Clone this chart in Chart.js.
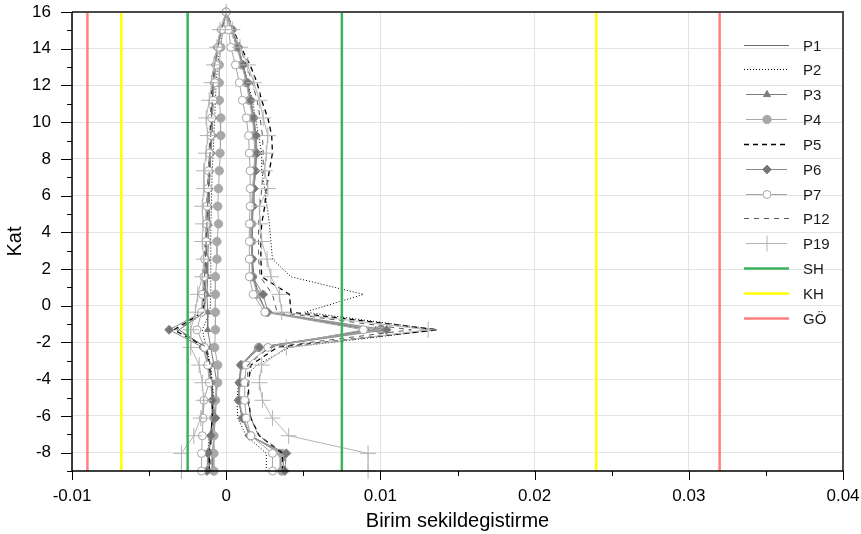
<!DOCTYPE html>
<html><head><meta charset="utf-8">
<script src="https://cdn.jsdelivr.net/npm/chart.js@4.4.1/dist/chart.umd.min.js"></script>
<style>html,body{margin:0;padding:0;background:#fff}canvas{display:block}</style>
</head><body>
<canvas id="c" width="861" height="534" style="width:861px;height:534px"></canvas>
<script>
// ---------- DATA ----------
const levels = [-9,-8.04,-7.08,-6.12,-5.15,-4.19,-3.23,-2.27,-1.31,-0.35,0.62,1.58,2.54,3.5,4.46,5.42,6.38,7.35,8.31,9.27,10.23,11.19,12.15,13.12,14.08,15.04,16];

const P1_max = [0.0035,0.0035,0.0016,0.00105,0.0008,0.00085,0.001,0.0022,0.0093,0.0026,0.0021,0.0018,0.0017,0.0017,0.0017,0.00175,0.0018,0.0019,0.00195,0.0019,0.0018,0.0016,0.0014,0.0011,0.00075,0.00035,0];
const P1_min = [-0.0011,-0.0011,-0.001,-0.0009,-0.0009,-0.00095,-0.0011,-0.00135,-0.00305,-0.0014,-0.00135,-0.0013,-0.0013,-0.00125,-0.0012,-0.00115,-0.0011,-0.00105,-0.001,-0.00095,-0.0009,-0.00085,-0.0008,-0.0007,-0.00055,-0.0003,0];

const P2_max = [0.0026,0.0026,0.0013,0.00075,0.0007,0.0008,0.002,0.0041,0.0137,0.0051,0.0089,0.0042,0.003,0.0029,0.0028,0.00265,0.0025,0.0023,0.0023,0.0021,0.0019,0.0017,0.0014,0.0011,0.0007,0.0003,0];
const P2_min = [-0.0012,-0.0012,-0.0011,-0.00085,-0.0008,-0.0009,-0.001,-0.0013,-0.00155,-0.00105,-0.001,-0.001,-0.001,-0.001,-0.001,-0.00095,-0.00095,-0.0009,-0.00085,-0.0008,-0.00075,-0.0007,-0.00065,-0.00055,-0.0004,-0.0002,0];

const P3_max = [0.0037,0.0037,0.00155,0.00105,0.0008,0.00085,0.00095,0.002,0.0097,0.0026,0.00205,0.00175,0.00165,0.00165,0.00165,0.0017,0.00175,0.00185,0.0019,0.00185,0.00175,0.00155,0.00135,0.00105,0.0007,0.00035,0];
const P3_min = [-0.0009,-0.0009,-0.0008,-0.0007,-0.00065,-0.0006,-0.0008,-0.001,-0.0012,-0.0012,-0.00125,-0.0012,-0.0012,-0.00115,-0.0011,-0.0011,-0.0011,-0.00105,-0.001,-0.00095,-0.0009,-0.00085,-0.0008,-0.0007,-0.00055,-0.0003,0];

const P4_max = [0.0036,0.0036,0.0016,0.0011,0.00085,0.0009,0.001,0.0021,0.01,0.0026,0.002,0.0017,0.00165,0.00165,0.00165,0.00165,0.0017,0.0018,0.00185,0.0018,0.0017,0.0015,0.0013,0.001,0.0007,0.00035,0];
const P4_min = [-0.0008,-0.0008,-0.0008,-0.0008,-0.0007,-0.00055,-0.00055,-0.00075,-0.0007,-0.0007,-0.0007,-0.0007,-0.0006,-0.0006,-0.0005,-0.00055,-0.0005,-0.00045,-0.0004,-0.00035,-0.00035,-0.00045,-0.00045,-0.00045,-0.00035,-0.0002,0];

const P5_max = [0.00365,0.00365,0.00215,0.0016,0.00145,0.00145,0.0016,0.0033,0.0137,0.0042,0.0041,0.0023,0.00225,0.00225,0.0023,0.0025,0.0026,0.0028,0.003,0.00295,0.0027,0.0023,0.002,0.00155,0.00095,0.00045,0];
const P5_min = [-0.0011,-0.0011,-0.001,-0.0009,-0.0009,-0.00095,-0.0011,-0.0013,-0.0034,-0.0015,-0.00145,-0.00145,-0.0014,-0.00135,-0.0013,-0.00125,-0.0012,-0.00115,-0.0011,-0.00105,-0.001,-0.00095,-0.0009,-0.0008,-0.0006,-0.00035,0];

const P6_max = [0.0038,0.0039,0.0015,0.00105,0.0008,0.00085,0.00095,0.00215,0.0104,0.0027,0.0024,0.0017,0.0017,0.0016,0.0016,0.00175,0.0018,0.0019,0.002,0.00195,0.0018,0.0016,0.0014,0.0011,0.0008,0.0004,0];
const P6_min = [-0.00125,-0.0012,-0.001,-0.0007,-0.0009,-0.001,-0.0012,-0.0015,-0.0037,-0.00155,-0.0015,-0.0014,-0.00135,-0.0013,-0.00125,-0.0012,-0.00115,-0.0011,-0.001,-0.0009,-0.0009,-0.00085,-0.0008,-0.0007,-0.0006,-0.00035,0];

const P7_max = [0.003,0.003,0.0016,0.0013,0.0012,0.0012,0.0013,0.0027,0.0089,0.0025,0.00175,0.0015,0.0015,0.0015,0.0015,0.00155,0.00155,0.00155,0.0015,0.00145,0.0013,0.00105,0.00085,0.0006,0.0003,0.00015,0];
const P7_min = [-0.0016,-0.0016,-0.00155,-0.0015,-0.00145,-0.0011,-0.0012,-0.0014,-0.0019,-0.0016,-0.00155,-0.00145,-0.0014,-0.0013,-0.0013,-0.00125,-0.0012,-0.00115,-0.0011,-0.001,-0.00095,-0.00085,-0.00075,-0.00065,-0.0005,-0.0003,0];

const P12_max = [0.0038,0.0038,0.0021,0.0016,0.0014,0.0014,0.0014,0.0028,0.012,0.0033,0.003,0.0022,0.0021,0.0021,0.0021,0.0022,0.0023,0.0024,0.0024,0.00235,0.0022,0.002,0.0017,0.0013,0.0009,0.0004,0];
const P12_min = [-0.001,-0.001,-0.00095,-0.00085,-0.00085,-0.0009,-0.00105,-0.00125,-0.0032,-0.00145,-0.0014,-0.0014,-0.00135,-0.0013,-0.00125,-0.0012,-0.00115,-0.0011,-0.00105,-0.001,-0.00095,-0.0009,-0.00085,-0.00075,-0.00055,-0.0003,0];

const P19_max = [0.0092,0.0092,0.00405,0.003,0.00235,0.00215,0.0023,0.0039,0.0131,0.0036,0.00345,0.0029,0.00265,0.0023,0.0022,0.00215,0.0027,0.0025,0.0026,0.0027,0.0024,0.00215,0.0018,0.0014,0.0009,0.0004,0];
const P19_min = [-0.0029,-0.0029,-0.0021,-0.00165,-0.00145,-0.00155,-0.00175,-0.0023,-0.0023,-0.002,-0.00185,-0.00155,-0.00145,-0.00155,-0.0015,-0.00155,-0.00145,-0.00145,-0.0013,-0.0012,-0.0013,-0.0011,-0.00095,-0.0008,-0.0006,-0.0004,0];

// limit lines (strain values)
const SH_limits = [-0.0025, 0.0075];
const KH_limits = [-0.0068, 0.024];
const GO_limits = [-0.009, 0.032];

const xTickValues = [-0.01, 0, 0.01, 0.02, 0.03, 0.04];
const yTickValues = [-8, -6, -4, -2, 0, 2, 4, 6, 8, 10, 12, 14, 16];

// ---------- STYLES ----------
const FONT = "'Liberation Sans', Arial, sans-serif";
const seriesDefs = [
  {label:'P1',  max:P1_max,  min:P1_min,  color:'#6e6e6e', dash:[],    width:1,   point:false},
  {label:'P2',  max:P2_max,  min:P2_min,  color:'#000000', dash:[1,2], width:1,   point:false},
  {label:'P3',  max:P3_max,  min:P3_min,  color:'#7c7c7c', dash:[],    width:1,   point:'triangle', r:3.5, fill:'#7c7c7c'},
  {label:'P4',  max:P4_max,  min:P4_min,  color:'#a8a8a8', dash:[],    width:1,   point:'circle',   r:4.2, fill:'#a8a8a8'},
  {label:'P5',  max:P5_max,  min:P5_min,  color:'#000000', dash:[5,4], width:1.3, point:false},
  {label:'P6',  max:P6_max,  min:P6_min,  color:'#8a8a8a', dash:[],    width:1,   point:'rectRot',  r:4.5, fill:'#767676'},
  {label:'P7',  max:P7_max,  min:P7_min,  color:'#a6a6a6', dash:[],    width:1,   point:'circle',   r:4,   fill:'#ffffff'},
  {label:'P12', max:P12_max, min:P12_min, color:'#585858', dash:[5,5], width:1,   point:false},
  {label:'P19', max:P19_max, min:P19_min, color:'#b4b4b4', dash:[],    width:1,   point:'cross',    r:8}
];
const limitDefs = [
  {label:'SH', values:SH_limits, color:'#3cb35a'},
  {label:'KH', values:KH_limits, color:'#ffff00'},
  {label:'GÖ', values:GO_limits, color:'#ff8080'}
];

function profile(maxArr, minArr) {
  const pts = [];
  for (let i = 0; i < levels.length; i++) pts.push({x: maxArr[i], y: levels[i]});
  for (let i = levels.length - 2; i >= 0; i--) pts.push({x: minArr[i], y: levels[i]});
  return pts;
}
function limitLine(vals) {
  const pts = [];
  vals.forEach((v, k) => {
    if (k > 0) pts.push({x: v, y: null});
    pts.push({x: v, y: levels[0]});
    pts.push({x: v, y: levels[levels.length - 1]});
  });
  return pts;
}

const datasets = [];
seriesDefs.forEach((s, idx) => {
  datasets.push({
    label: s.label,
    data: profile(s.max, s.min),
    showLine: true,
    borderColor: s.color,
    borderWidth: s.width,
    borderDash: s.dash,
    pointStyle: s.point || 'circle',
    pointRadius: s.point ? s.r : 0,
    pointBackgroundColor: s.fill || s.color,
    pointBorderColor: s.color,
    pointBorderWidth: 1,
    pointHoverRadius: 0,
    tension: 0,
    clip: false,
    order: 20 - idx
  });
});
limitDefs.forEach(l => {
  datasets.push({
    label: l.label,
    data: limitLine(l.values),
    showLine: true,
    spanGaps: false,
    borderColor: l.color,
    borderWidth: 2.5,
    pointRadius: 0,
    order: -1
  });
});

function drawMarker(ctx, style, x, y, r, fill, stroke) {
  ctx.save();
  ctx.setLineDash([]);
  ctx.fillStyle = fill; ctx.strokeStyle = stroke; ctx.lineWidth = 1;
  ctx.beginPath();
  if (style === 'circle') {
    ctx.arc(x, y, r, 0, Math.PI * 2); ctx.fill(); ctx.stroke();
  } else if (style === 'triangle') {
    ctx.moveTo(x, y - r * 1.15); ctx.lineTo(x + r, y + r * 0.6); ctx.lineTo(x - r, y + r * 0.6); ctx.closePath(); ctx.fill(); ctx.stroke();
  } else if (style === 'rectRot') {
    ctx.moveTo(x, y - r); ctx.lineTo(x + r, y); ctx.lineTo(x, y + r); ctx.lineTo(x - r, y); ctx.closePath(); ctx.fill(); ctx.stroke();
  } else if (style === 'cross') {
    ctx.moveTo(x - r, y); ctx.lineTo(x + r, y); ctx.moveTo(x, y - r); ctx.lineTo(x, y + r); ctx.stroke();
  }
  ctx.restore();
}

const decorPlugin = {
  id: 'decor',
  afterDraw(chart) {
    const {ctx, chartArea: a, scales: {x, y}} = chart;
    ctx.save();
    // frame top / right
    ctx.strokeStyle = '#4a4a4a'; ctx.lineWidth = 2;
    ctx.beginPath(); ctx.moveTo(a.left, a.top); ctx.lineTo(a.right, a.top); ctx.lineTo(a.right, a.bottom); ctx.stroke();
    // left & bottom axis lines
    ctx.strokeStyle = '#000'; ctx.lineWidth = 1.5;
    ctx.beginPath(); ctx.moveTo(a.left, a.top); ctx.lineTo(a.left, a.bottom); ctx.lineTo(a.right, a.bottom); ctx.stroke();
    // ticks
    ctx.lineWidth = 1;
    ctx.beginPath();
    for (let v = -9; v <= 16; v++) {
      const p = Math.round(y.getPixelForValue(v)) + 0.5;
      const len = (v % 2 === 0) ? 11 : 5;
      ctx.moveTo(a.left - len, p); ctx.lineTo(a.left, p);
    }
    for (let k = 0; k <= 10; k++) {
      const v = -0.01 + k * 0.005;
      const p = Math.round(x.getPixelForValue(v)) + 0.5;
      const len = (k % 2 === 0) ? 9 : 5;
      ctx.moveTo(p, a.bottom); ctx.lineTo(p, a.bottom + len);
    }
    ctx.stroke();

    // legend
    const items = seriesDefs.map(s => ({label: s.label, color: s.color, dash: s.dash, width: s.width, point: s.point, r: s.r, fill: s.fill}))
      .concat(limitDefs.map(l => ({label: l.label, color: l.color, dash: [], width: 2.5, point: false})));
    const x0 = 744, x1 = 789, tx = 803, y0 = 44.5, dy = 24.85;
    ctx.font = '15px ' + FONT;
    ctx.textBaseline = 'middle';
    ctx.textAlign = 'left';
    items.forEach((it, i) => {
      const yy = Math.round(y0 + i * dy) + 0.5;
      ctx.save();
      ctx.strokeStyle = it.color; ctx.lineWidth = it.width;
      ctx.setLineDash(it.dash);
      ctx.beginPath();
      const lx0 = it.point ? 746 : x0, lx1 = it.point ? 787 : x1;
      ctx.moveTo(lx0, yy); ctx.lineTo(lx1, yy); ctx.stroke();
      ctx.restore();
      if (it.point) drawMarker(ctx, it.point, (x0 + x1) / 2 + 0.5, yy, it.r, it.fill || it.color, it.color);
      ctx.fillStyle = '#1a1a1a';
      ctx.fillText(it.label, tx, yy + 1);
    });
    ctx.restore();
  }
};

new Chart(document.getElementById('c'), {
  type: 'scatter',
  data: { datasets },
  options: {
    responsive: false,
    animation: false,
    devicePixelRatio: 1,
    layout: { padding: { top: 12, right: 18, left: 0, bottom: 0 } },
    plugins: { legend: { display: false }, tooltip: { enabled: false } },
    scales: {
      x: {
        type: 'linear', min: -0.01, max: 0.04,
        afterBuildTicks: s => { s.ticks = xTickValues.map(v => ({value: v})); },
        afterFit: s => { s.height = 63; s.paddingLeft = 0; s.paddingRight = 0; },
        ticks: { autoSkip: false, maxRotation: 0, padding: 6, color: '#000', font: { size: 17, family: FONT },
                 callback: v => String(Number(Number(v).toFixed(4))) },
        grid: { color: '#e3e3e3', lineWidth: 1, tickLength: 9, tickColor: 'rgba(0,0,0,0)' },
        border: { display: false },
        title: { display: true, text: 'Birim sekildegistirme', color: '#000', font: { size: 20, family: FONT }, padding: { top: 0, bottom: 1 } }
      },
      y: {
        type: 'linear', min: -9, max: 16,
        afterBuildTicks: s => { s.ticks = yTickValues.map(v => ({value: v})); },
        afterFit: s => { s.width = 72; s.paddingTop = 0; s.paddingBottom = 0; },
        ticks: { autoSkip: false, padding: 10, color: '#000', font: { size: 17, family: FONT },
                 callback: v => String(v) },
        grid: { color: '#e3e3e3', lineWidth: 1, tickLength: 11, tickColor: 'rgba(0,0,0,0)' },
        border: { display: false },
        title: { display: true, text: 'Kat', color: '#000', font: { size: 20, family: FONT }, padding: { top: 3, bottom: 0 } }
      }
    }
  },
  plugins: [decorPlugin]
});
</script></body></html>
